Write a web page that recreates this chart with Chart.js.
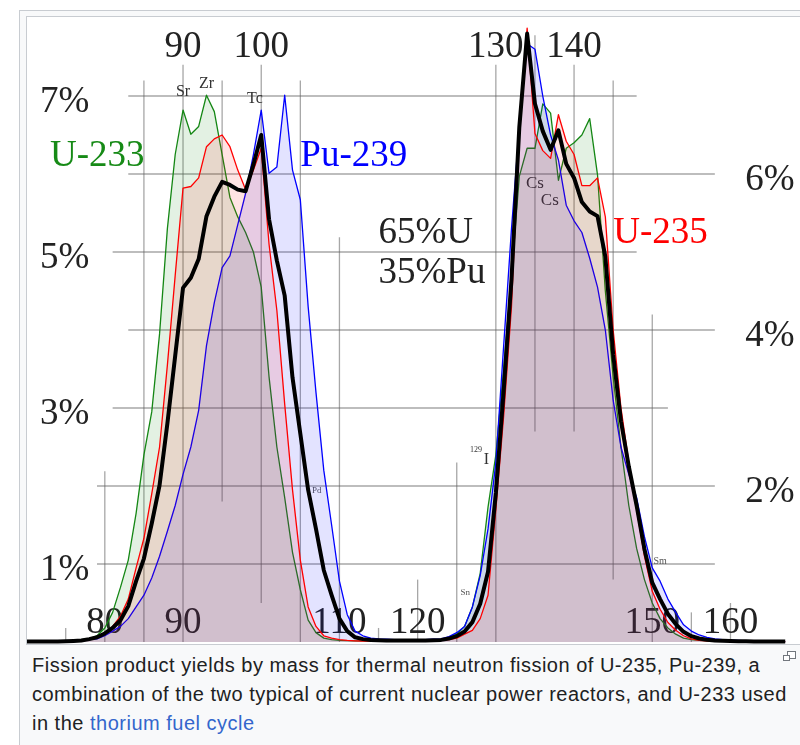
<!DOCTYPE html>
<html>
<head>
<meta charset="utf-8">
<script src="https://cdn.jsdelivr.net/npm/chart.js@4.4.0/dist/chart.umd.min.js"></script>
<style>
  html, body { margin: 0; padding: 0; background: #fff; width: 800px; height: 745px; overflow: hidden; }
  #thumb { position: absolute; left: 19px; top: 10px; width: 800px; height: 760px; background: #f8f9fa; border: 1px solid #c8ccd1; }
  #plot { position: absolute; left: 26px; top: 16px; width: 773px; height: 627px; border: 1px solid #c8ccd1; background: #fff; }
  canvas { display: block; }
  #caption { position: absolute; left: 32px; top: 651px; font-family: "Liberation Sans", Arial, sans-serif; font-size: 20px; letter-spacing: 0.5px; line-height: 29px; color: #202122; white-space: nowrap; }
  #caption a { color: #3366cc; text-decoration: none; }
  .mag1 { position: absolute; left: 787px; top: 651px; width: 7px; height: 6px; border: 1px solid #72777d; background: #fff; }
  .mag2 { position: absolute; left: 783px; top: 655px; width: 5px; height: 4px; border: 1px solid #72777d; background: #fff; }
</style>
</head>
<body>
<div id="thumb"></div>
<div id="plot"><canvas id="yield-chart" width="773" height="627"></canvas></div>
<div id="caption">Fission product yields by mass for thermal neutron fission of U-235, Pu-239, a<br>combination of the two typical of current nuclear power reactors, and U-233 used<br>in the <a>thorium fuel cycle</a></div>
<div class="mag1"></div><div class="mag2"></div>
<script>
// mass numbers
const masses = [
  70, 71, 72, 73, 74, 75, 76, 77, 78, 79,
  80, 81, 82, 83, 84, 85, 86, 87, 88, 89,
  90, 91, 92, 93, 94, 95, 96, 97, 98, 99,
  100, 101, 102, 103, 104, 105, 106, 107, 108, 109,
  110, 111, 112, 113, 114, 115, 116, 117, 118, 119,
  120, 121, 122, 123, 124, 125, 126, 127, 128, 129,
  130, 131, 132, 133, 134, 135, 136, 137, 138, 139,
  140, 141, 142, 143, 144, 145, 146, 147, 148, 149,
  150, 151, 152, 153, 154, 155, 156, 157, 158, 159,
  160, 161, 162, 163, 164, 165, 166, 167
];

// yields in %
const u233 = [
  0.005, 0.005, 0.006, 0.008, 0.01, 0.015, 0.02, 0.03, 0.04, 0.08,
  0.18, 0.38, 0.7, 1.05, 1.65, 2.4, 2.95, 3.95, 5.3, 6.25,
  6.82, 6.51, 6.61, 7.01, 6.8, 6.25, 5.7, 5.45, 5.25, 5.0,
  4.55, 3.4, 2.5, 1.85, 1.15, 0.67, 0.28, 0.12, 0.05, 0.03,
  0.02, 0.018, 0.015, 0.015, 0.015, 0.015, 0.015, 0.015, 0.015, 0.015,
  0.015, 0.015, 0.02, 0.03, 0.06, 0.1, 0.2, 0.45, 0.88, 1.73,
  2.4, 3.5, 4.7, 5.97, 6.33, 6.33, 6.9, 6.78, 5.92, 6.33,
  6.4, 6.5, 6.71, 5.99, 4.5, 3.4, 2.5, 1.75, 1.2, 0.8,
  0.5, 0.3, 0.18, 0.1, 0.05, 0.03, 0.02, 0.015, 0.01, 0.01,
  0.008, 0.007, 0.006, 0.006, 0.005, 0.005, 0.005, 0.005
];
const u235 = [
  0.005, 0.005, 0.005, 0.005, 0.008, 0.01, 0.015, 0.02, 0.04, 0.07,
  0.12, 0.2, 0.33, 0.55, 0.95, 1.33, 1.9, 2.5, 3.55, 4.7,
  5.82, 5.84, 5.95, 6.35, 6.45, 6.5, 6.35, 6.05, 5.8, 6.05,
  6.33, 5.1, 4.25, 3.05, 1.95, 1.05, 0.45, 0.2, 0.08, 0.05,
  0.03, 0.02, 0.015, 0.013, 0.012, 0.012, 0.012, 0.012, 0.012, 0.012,
  0.012, 0.013, 0.015, 0.02, 0.03, 0.05, 0.1, 0.15, 0.3, 0.6,
  1.7, 2.9, 4.3, 6.6, 7.87, 6.52, 6.3, 6.2, 6.76, 6.42,
  6.25, 5.85, 5.85, 5.95, 5.45, 4.0, 3.0, 2.3, 1.7, 1.1,
  0.65, 0.42, 0.25, 0.15, 0.08, 0.04, 0.02, 0.015, 0.01, 0.01,
  0.008, 0.008, 0.007, 0.007, 0.006, 0.006, 0.005, 0.005
];
const pu239 = [
  0.005, 0.005, 0.005, 0.006, 0.008, 0.01, 0.012, 0.02, 0.03, 0.04,
  0.08, 0.14, 0.2, 0.3, 0.45, 0.6, 0.82, 1.1, 1.42, 1.75,
  2.15, 2.5, 2.97, 3.8, 4.35, 4.8, 4.95, 5.35, 5.75, 6.25,
  6.82, 6.01, 6.09, 7.01, 6.05, 5.67, 4.3, 3.2, 2.2, 1.5,
  0.78, 0.35, 0.14, 0.08, 0.05, 0.04, 0.035, 0.03, 0.03, 0.03,
  0.03, 0.03, 0.035, 0.04, 0.07, 0.12, 0.2, 0.45, 0.85, 1.45,
  2.3, 3.8, 5.3, 6.6, 7.67, 7.6, 7.0, 6.5, 6.18, 5.6,
  5.4, 5.25, 4.92, 4.55, 4.0, 3.1, 2.5, 2.15, 1.85, 1.35,
  0.95, 0.78, 0.55, 0.38, 0.22, 0.14, 0.09, 0.06, 0.04, 0.03,
  0.025, 0.02, 0.015, 0.012, 0.01, 0.008, 0.007, 0.006
];
// 65% U + 35% Pu
const mix = [
  0.005, 0.005, 0.005, 0.005, 0.008, 0.01, 0.014, 0.02, 0.037, 0.06,
  0.11, 0.18, 0.28, 0.46, 0.78, 1.07, 1.52, 2.01, 2.8, 3.67,
  4.54, 4.67, 4.91, 5.46, 5.71, 5.9, 5.86, 5.8, 5.78, 6.12,
  6.5, 5.42, 4.89, 4.44, 3.39, 2.67, 1.95, 1.45, 0.92, 0.6,
  0.3, 0.14, 0.06, 0.037, 0.025, 0.022, 0.02, 0.018, 0.018, 0.018,
  0.018, 0.018, 0.022, 0.027, 0.044, 0.075, 0.135, 0.255, 0.49, 0.9,
  1.91, 3.22, 4.65, 6.6, 7.8, 6.9, 6.55, 6.31, 6.56, 6.13,
  5.95, 5.64, 5.52, 5.46, 4.94, 3.69, 2.83, 2.25, 1.75, 1.19,
  0.76, 0.55, 0.36, 0.23, 0.13, 0.075, 0.045, 0.03, 0.02, 0.015,
  0.012, 0.01, 0.009, 0.008, 0.007, 0.006, 0.006, 0.005
];

// tick labels
const topTicks = [90, 100, 130, 140];
const bottomTicks = [80, 90, 110, 120, 150, 160];
const leftPct = [7, 5, 3, 1];
const rightPct = [6, 4, 2];

// grid segments: [mass, top %, bottom %] and [%, from mass, to mass]
const vLines = [
  [75, 0.18, 0], [80, 2.19, 0], [85, 7.2, 0], [90, 7.4, 0], [95, 7.2, 1.8],
  [100, 7.4, 0.5], [105, 7.2, 0], [110, 5.19, 0], [115, 0.18, 0], [120, 0.8, 0],
  [125, 2.3, 0], [130, 7.4, 0], [135, 7.78, 2.7], [140, 7.4, 2.7], [145, 7.2, 0.8],
  [150, 4.2, 0], [155, 0.38, 0], [160, 0.5, 0]
];
const hLines = [
  [7, 83, 148], [6, 83, 158], [5, 81, 148], [4, 83, 158],
  [3, 81, 152], [2, 79, 158], [1, 79, 158]
];

function pts(vals) {
  return masses.map((m, i) => ({ x: m, y: vals[i] }));
}

const serif = '"Liberation Serif", "Times New Roman", serif';

const decor = {
  id: 'decor',
  beforeDatasetsDraw(chart) {
    const { ctx, scales: { x, y } } = chart;
    ctx.save();
    ctx.strokeStyle = 'rgba(95,95,95,0.55)';
    ctx.lineWidth = 1.3;
    vLines.forEach(([m, t, b]) => {
      const px = x.getPixelForValue(m);
      ctx.beginPath();
      ctx.moveTo(px, y.getPixelForValue(t));
      ctx.lineTo(px, y.getPixelForValue(b));
      ctx.stroke();
    });
    hLines.forEach(([v, a, b]) => {
      const py = y.getPixelForValue(v);
      ctx.beginPath();
      ctx.moveTo(x.getPixelForValue(a), py);
      ctx.lineTo(x.getPixelForValue(b), py);
      ctx.stroke();
    });

    function txt(s, m, v, size, color, align) {
      ctx.font = size + 'px ' + serif;
      ctx.fillStyle = color;
      ctx.textAlign = align;
      ctx.textBaseline = 'alphabetic';
      ctx.fillText(s, x.getPixelForValue(m), y.getPixelForValue(v));
    }
    const ink = '#222';
    topTicks.forEach(m => txt(String(m), m, 7.5, 37, ink, 'center'));
    bottomTicks.forEach(m => txt(String(m), m, 0.115, 37, ink, 'center'));
    leftPct.forEach(p => txt(p + '%', 71.7, p - 0.2, 37, ink, 'left'));
    rightPct.forEach(p => txt(p + '%', 161.9, p - 0.21, 37, ink, 'left'));

    txt('U-233', 73.0, 6.1, 37, '#168a16', 'left');
    txt('Pu-239', 105.0, 6.1, 37, '#0000ff', 'left');
    txt('U-235', 145.0, 5.12, 37, '#ff0000', 'left');
    txt('65%U', 115.0, 5.12, 37, ink, 'left');
    txt('35%Pu', 115.0, 4.6, 37, ink, 'left');

    const small = '#333';
    txt('Sr', 90, 7.0, 16, small, 'center');
    txt('Zr', 93, 7.1, 16, small, 'center');
    txt('Tc', 99.2, 6.91, 16, small, 'center');
    txt('Cs', 135, 5.82, 17, small, 'center');
    txt('Cs', 136.9, 5.6, 17, small, 'center');
    txt('Pd', 107.1, 1.91, 9, '#555', 'center');
    txt('Sn', 126.1, 0.6, 9, '#555', 'center');
    txt('Sm', 151, 1.0, 10, '#555', 'center');
    txt('129', 127.45, 2.44, 8, small, 'center');
    txt('I', 128.8, 2.28, 16, small, 'center');
    ctx.restore();
  }
};

new Chart(document.getElementById('yield-chart'), {
  type: 'line',
  data: {
    datasets: [
      { label: '65%U 35%Pu', data: pts(mix), borderColor: '#000', borderWidth: 4, fill: false, order: 0 },
      { label: 'U-235', data: pts(u235), borderColor: 'rgb(255,0,0)', backgroundColor: 'rgba(255,0,0,0.11)', borderWidth: 1.3, fill: 'origin', order: 1 },
      { label: 'Pu-239', data: pts(pu239), borderColor: 'rgb(0,0,255)', backgroundColor: 'rgba(0,0,255,0.11)', borderWidth: 1.3, fill: 'origin', order: 2 },
      { label: 'U-233', data: pts(u233), borderColor: 'rgb(20,135,20)', backgroundColor: 'rgba(0,128,0,0.11)', borderWidth: 1.3, fill: 'origin', order: 3 }
    ]
  },
  options: {
    responsive: false,
    animation: false,
    devicePixelRatio: 1,
    layout: { padding: 0 },
    elements: { point: { radius: 0 }, line: { tension: 0, borderJoinStyle: 'round' } },
    plugins: { legend: { display: false }, tooltip: { enabled: false } },
    scales: {
      x: { type: 'linear', min: 70.05, max: 168.89, display: false },
      y: { min: -0.0256, max: 8.013, display: false }
    }
  },
  plugins: [decor]
});
</script>
</body>
</html>
